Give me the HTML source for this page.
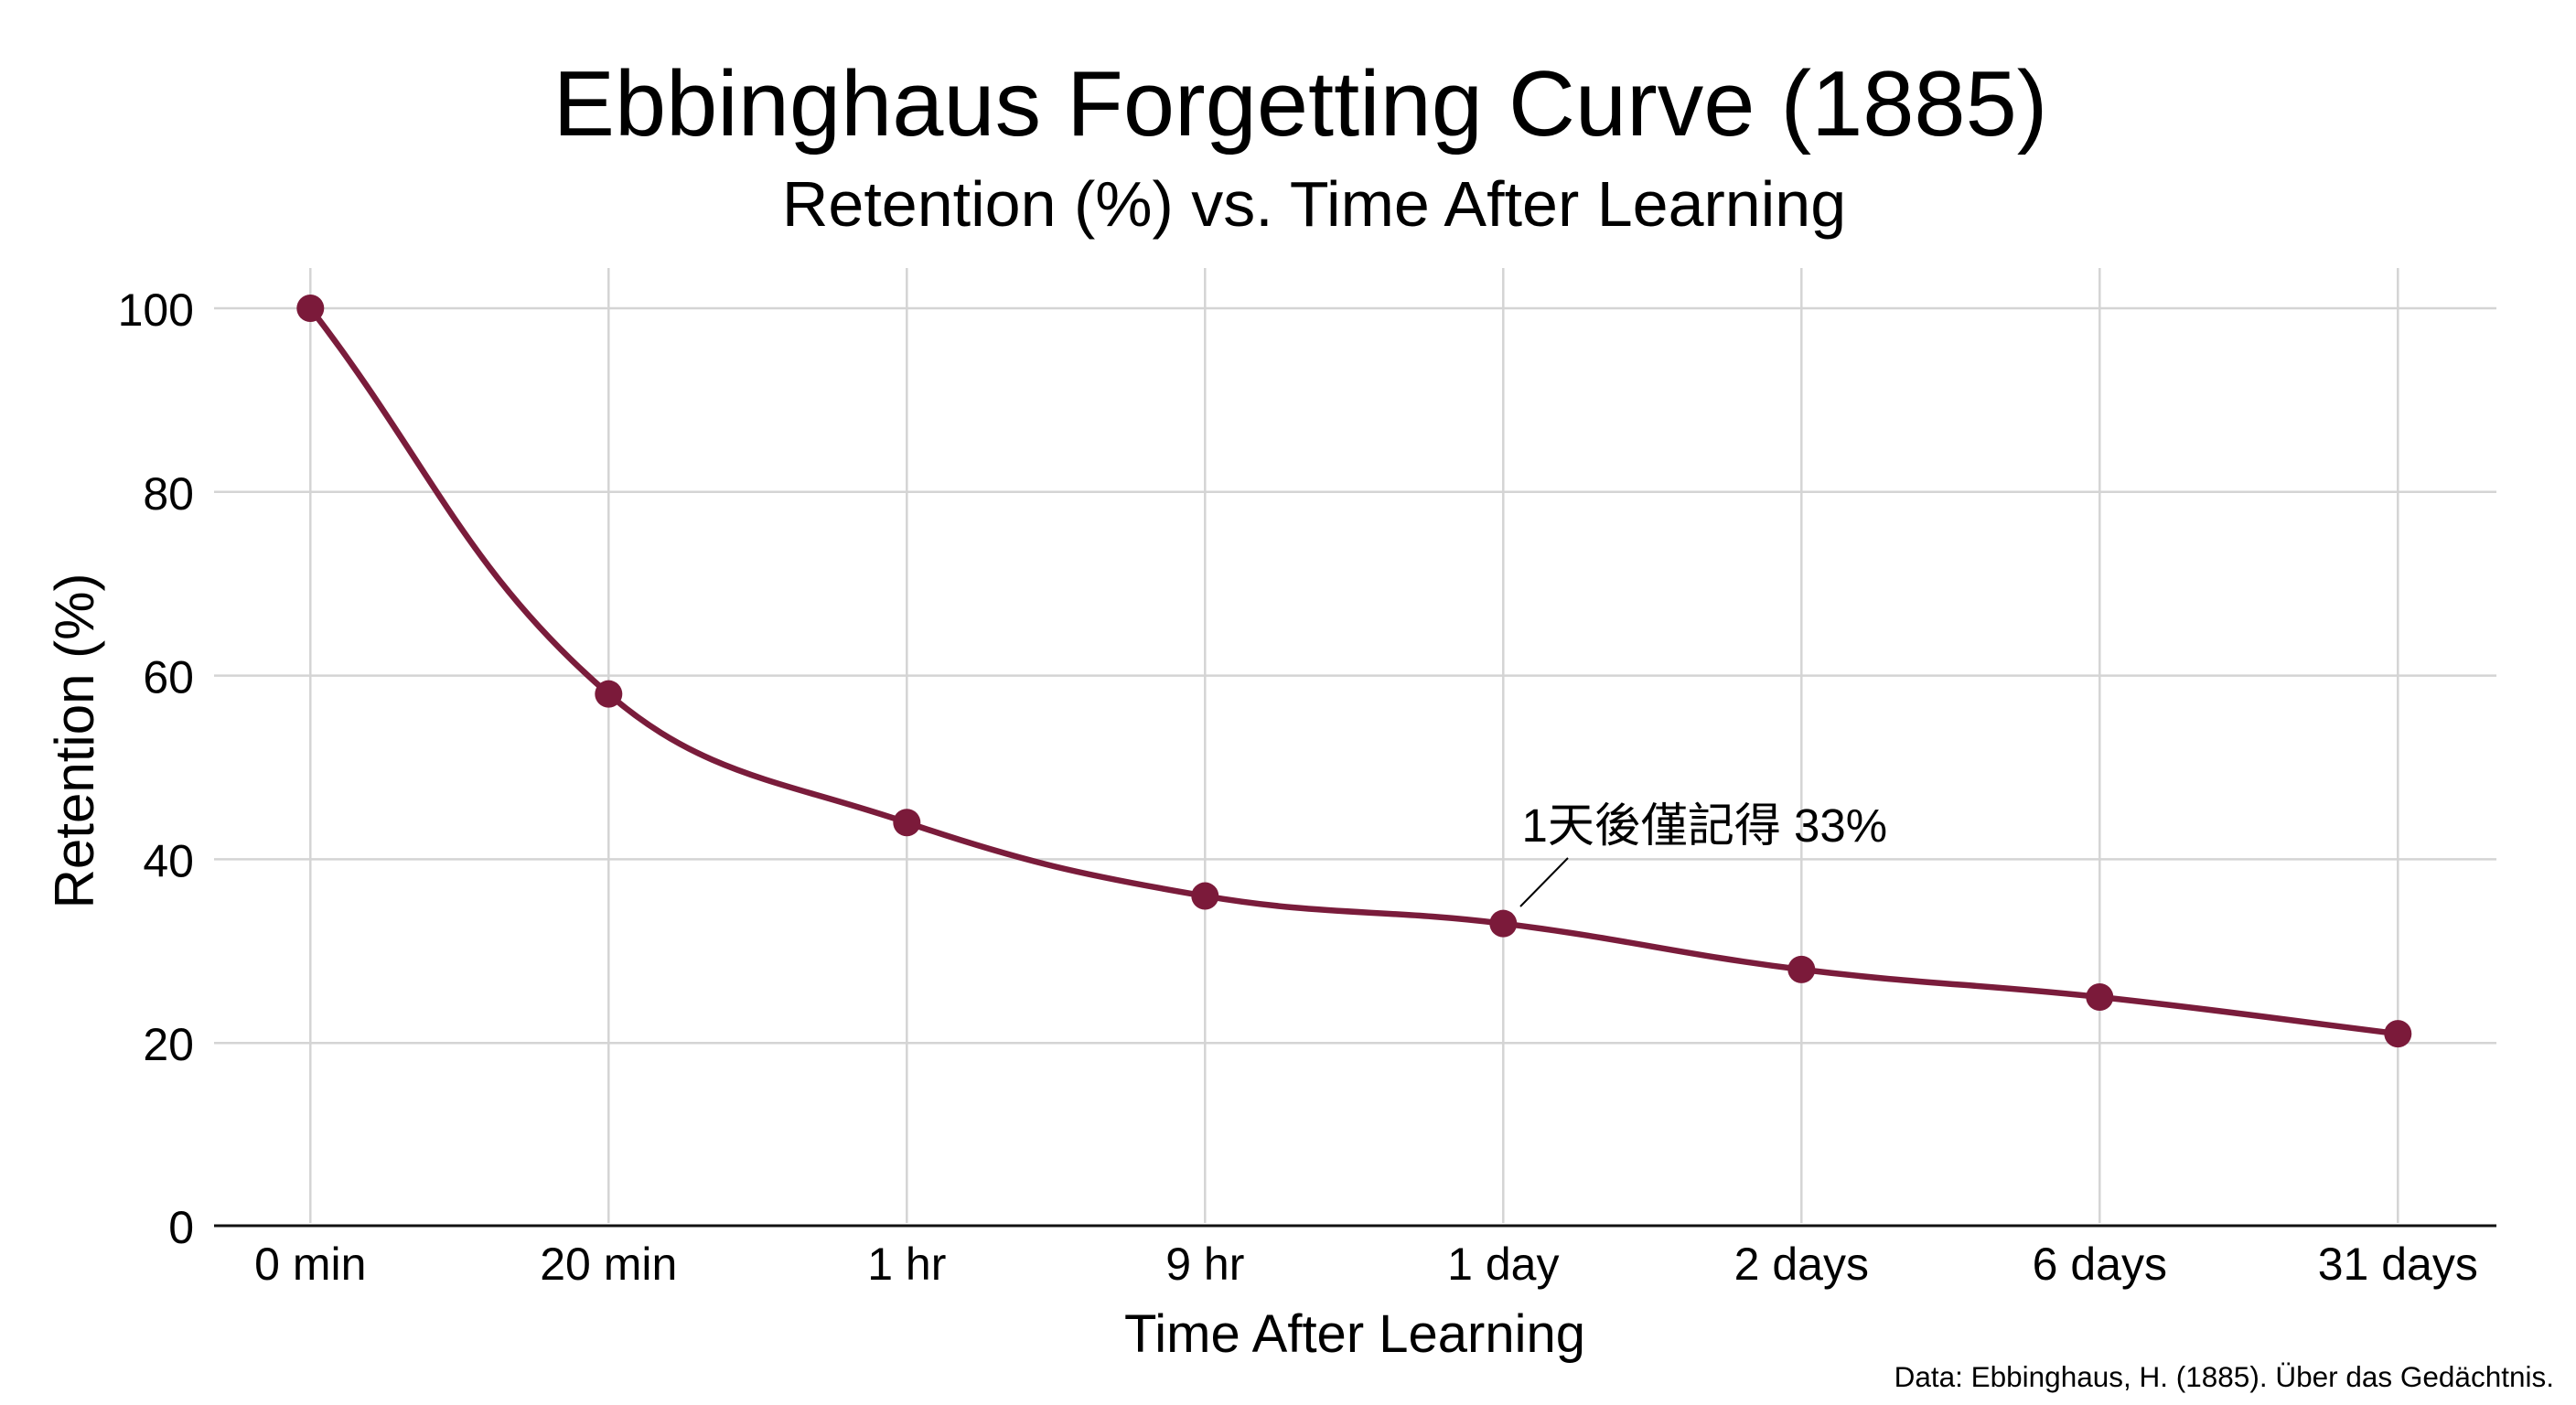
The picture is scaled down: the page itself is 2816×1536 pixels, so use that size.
<!DOCTYPE html>
<html>
<head>
<meta charset="utf-8">
<style>
  html, body { margin: 0; padding: 0; background: #ffffff; }
  svg { display: block; }
  text { font-family: "Liberation Sans", "Noto Sans CJK TC", sans-serif; fill: #000; }
</style>
</head>
<body>
<svg width="2816" height="1536" viewBox="0 0 2816 1536" xmlns="http://www.w3.org/2000/svg">
  <rect x="0" y="0" width="2816" height="1536" fill="#ffffff"/>

  <!-- Title & subtitle -->
  <text x="1421.5" y="148" font-size="101" text-anchor="middle">Ebbinghaus Forgetting Curve (1885)</text>
  <text x="1436.5" y="247" font-size="70" text-anchor="middle">Retention (%) vs. Time After Learning</text>

  <!-- Horizontal gridlines -->
  <g stroke="#d4d4d4" stroke-width="2.5">
    <line x1="234" y1="337" x2="2729" y2="337"/>
    <line x1="234" y1="537.8" x2="2729" y2="537.8"/>
    <line x1="234" y1="738.6" x2="2729" y2="738.6"/>
    <line x1="234" y1="939.4" x2="2729" y2="939.4"/>
    <line x1="234" y1="1140.2" x2="2729" y2="1140.2"/>
  </g>
  <!-- Vertical gridlines -->
  <g stroke="#d4d4d4" stroke-width="2.5">
    <line x1="339.3" y1="293" x2="339.3" y2="1337"/>
    <line x1="665.3" y1="293" x2="665.3" y2="1337"/>
    <line x1="991.3" y1="293" x2="991.3" y2="1337"/>
    <line x1="1317.3" y1="293" x2="1317.3" y2="1337"/>
    <line x1="1643.3" y1="293" x2="1643.3" y2="1337"/>
    <line x1="1969.3" y1="293" x2="1969.3" y2="1337"/>
    <line x1="2295.3" y1="293" x2="2295.3" y2="1337"/>
    <line x1="2621.3" y1="293" x2="2621.3" y2="1337"/>
  </g>

  <!-- X axis line -->
  <line x1="234" y1="1340" x2="2729" y2="1340" stroke="#111" stroke-width="3"/>

  <!-- Y tick labels -->
  <g font-size="50" text-anchor="end">
    <text x="212" y="356">100</text>
    <text x="212" y="556.8">80</text>
    <text x="212" y="757.6">60</text>
    <text x="212" y="958.4">40</text>
    <text x="212" y="1159.2">20</text>
    <text x="212" y="1359">0</text>
  </g>

  <!-- X tick labels -->
  <g font-size="50" text-anchor="middle">
    <text x="339.3" y="1399">0 min</text>
    <text x="665.3" y="1399">20 min</text>
    <text x="991.3" y="1399">1 hr</text>
    <text x="1317.3" y="1399">9 hr</text>
    <text x="1643.3" y="1399">1 day</text>
    <text x="1969.3" y="1399">2 days</text>
    <text x="2295.3" y="1399">6 days</text>
    <text x="2621.3" y="1399">31 days</text>
  </g>

  <!-- Axis titles -->
  <text x="1481" y="1478" font-size="58" text-anchor="middle">Time After Learning</text>
  <text x="0" y="0" font-size="60" text-anchor="middle" transform="translate(102,810) rotate(-90)">Retention (%)</text>

  <!-- Curve -->
  <path d="M339.3,337 C469.7,505.67 508.77,623.70 665.3,758.68 C769.57,848.59 857.26,853.83 991.3,899.24 C1118.06,942.18 1185.26,957.19 1317.3,979.56 C1446.06,1001.37 1513.39,993.68 1643.3,1009.68 C1774.19,1025.80 1838.41,1043.76 1969.3,1059.88 C2099.21,1075.88 2165.11,1075.97 2295.3,1090 C2425.91,1104.08 2490.9,1114.10 2621.3,1130.16"
        fill="none" stroke="#7a1c3b" stroke-width="6.5" stroke-linejoin="round" stroke-linecap="round"/>

  <!-- Points -->
  <g fill="#7b1a3a">
    <circle cx="339.3" cy="337" r="15"/>
    <circle cx="665.3" cy="758.68" r="15"/>
    <circle cx="991.3" cy="899.24" r="15"/>
    <circle cx="1317.3" cy="979.56" r="15"/>
    <circle cx="1643.3" cy="1009.68" r="15"/>
    <circle cx="1969.3" cy="1059.88" r="15"/>
    <circle cx="2295.3" cy="1090" r="15"/>
    <circle cx="2621.3" cy="1130.16" r="15"/>
  </g>

  <!-- Annotation -->
  <line x1="1714" y1="938" x2="1662" y2="991" stroke="#000" stroke-width="2"/>
  <text x="1663.5" y="920" font-size="51">1天後僅記得 33%</text>

  <!-- Source -->
  <text x="2792" y="1516" font-size="31.5" text-anchor="end">Data: Ebbinghaus, H. (1885). Über das Gedächtnis.</text>
</svg>
</body>
</html>
